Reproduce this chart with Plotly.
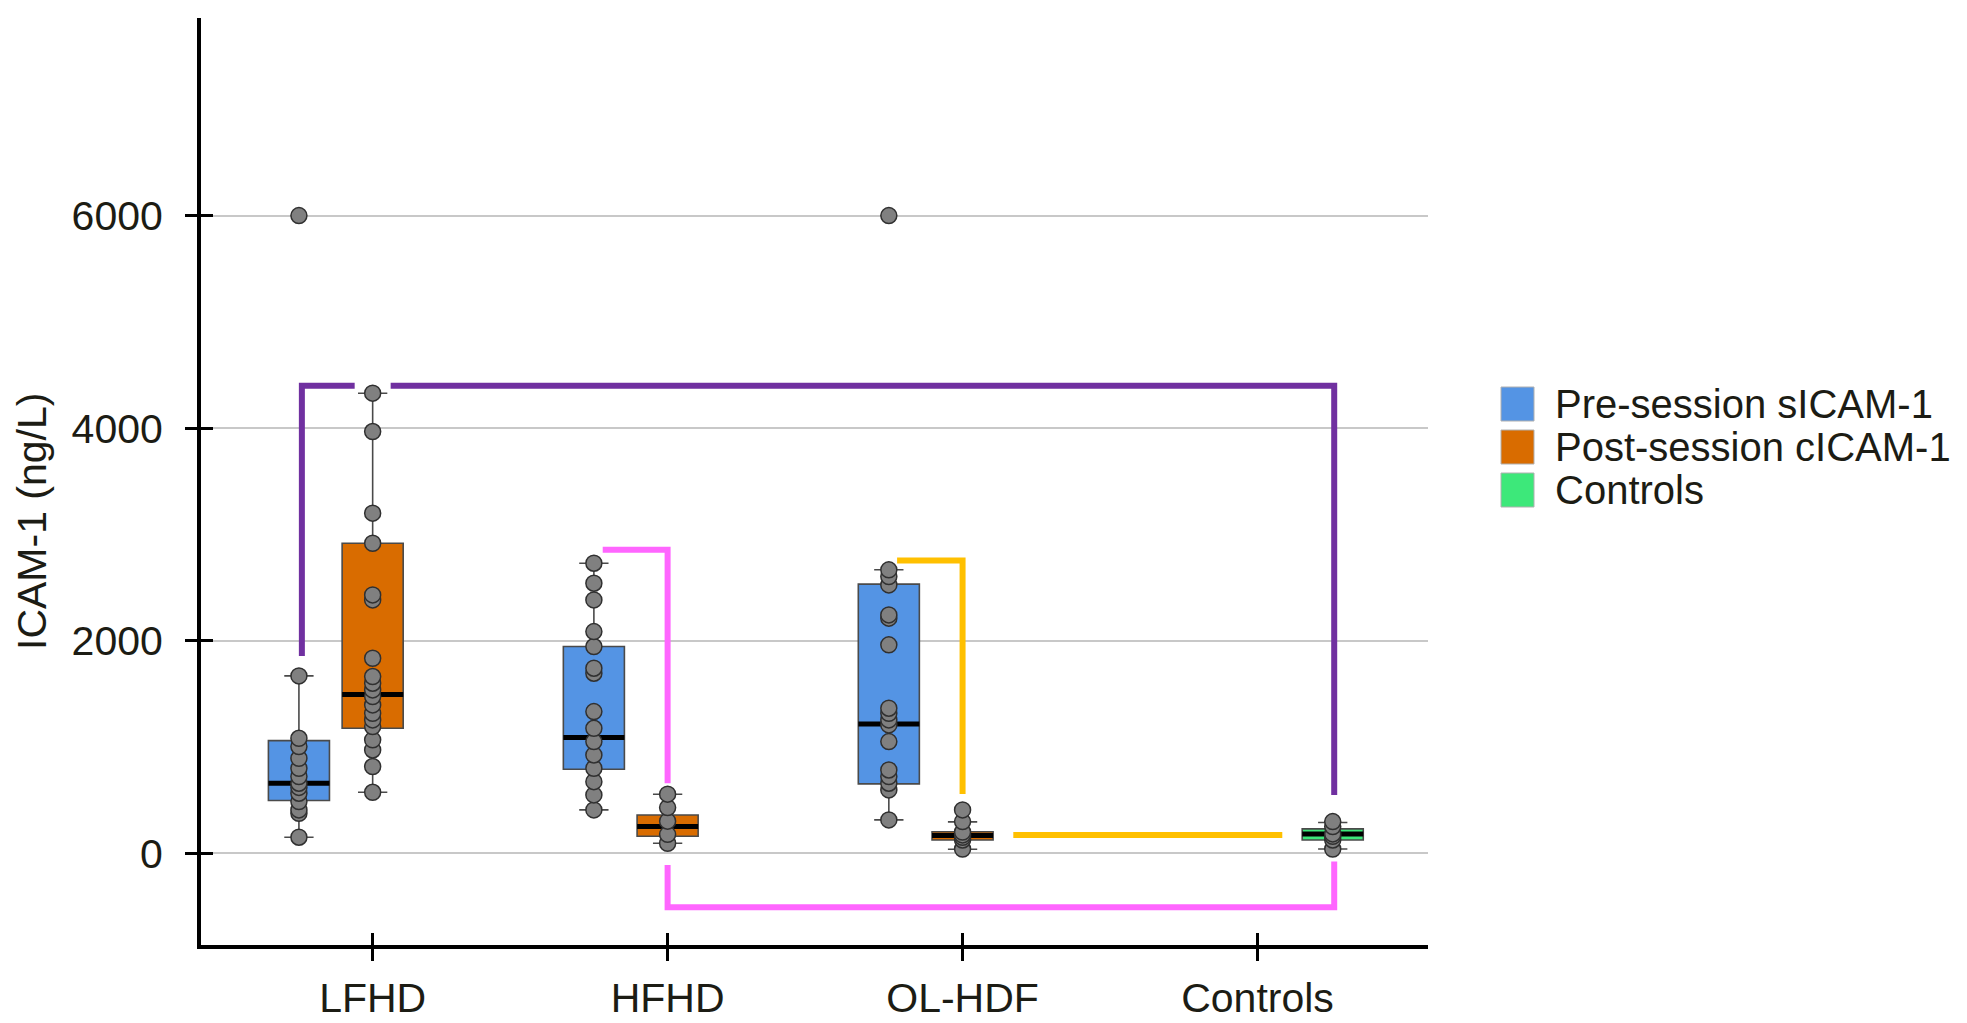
import plotly.graph_objects as go

# groups on the x axis
groups = ["LFHD", "HFHD", "OL-HDF", "Controls"]

# (ng/L)
pre_points = {
    "LFHD": [151, 376, 408, 486, 565, 620, 659, 722, 800, 894, 1004, 1082, 1669, 6000],
    "HFHD": [408, 549, 674, 800, 925, 1051, 1176, 1333, 1694, 1741, 1945, 2086, 2384, 2541, 2729],
    "OL-HDF": [314, 596, 659, 722, 784, 1051, 1208, 1255, 1317, 1365, 1961, 2212, 2243, 2525, 2604, 2667, 6000],
}
post_points = {
    "LFHD": [574, 816, 972, 1067, 1192, 1255, 1317, 1396, 1474, 1537, 1600, 1663, 1835, 2384, 2431, 2917, 3200, 3968, 4329],
    "HFHD": [94, 178, 302, 430, 556],
    "OL-HDF": [40, 125, 150, 173, 200, 298, 408],
}
control_points = {
    "Controls": [40, 125, 160, 182, 251, 298],
}

# box statistics as drawn: q1, median, q3, lower whisker, upper whisker
pre_stats = {
    "LFHD": [496, 659, 1060, 151, 1669],
    "HFHD": [790, 1089, 1945, 408, 2729],
    "OL-HDF": [653, 1217, 2532, 314, 2667],
}
post_stats = {
    "LFHD": [1176, 1493, 2917, 574, 4329],
    "HFHD": [160, 251, 360, 94, 556],
    "OL-HDF": [125, 168, 203, 38, 295],
}
control_stats = {
    "Controls": [125, 182, 230, 40, 290],
}

series = [
    ("Pre-session sICAM-1", pre_points, pre_stats, -0.25, "#5494E4"),
    ("Post-session cICAM-1", post_points, post_stats, 0.0, "#D96C00"),
    ("Controls", control_points, control_stats, 0.255, "#3DE87A"),
]

# significance brackets, in data units (x = group index + offset)
brackets = [
    ("#7030A0", [(-0.24, 1857), (-0.24, 4400), (-0.061, 4400)]),
    ("#7030A0", [(0.061, 4400), (3.26, 4400), (3.26, 549)]),
    ("#FF66FF", [(0.78, 2855), (1.0, 2855), (1.0, 659)]),
    ("#FF66FF", [(1.0, -110), (1.0, -508), (3.26, -508), (3.26, -78)]),
    ("#FFC000", [(1.778, 2754), (2.0, 2754), (2.0, 558)]),
    ("#FFC000", [(2.172, 173), (3.084, 173)]),
]

W, H = 1967, 1023
OFF = 8  # page body margin shifts the figure
ML, MR, MT, MB = 201 - OFF, 539 + OFF, 18 - OFF, 78 + OFF
BOX_W = 0.207
FONT = "Liberation Sans, Arial, sans-serif"
TXT = "#1c1c14"


def paper(px, py):
    # screen pixel -> paper coords
    pw = W - ML - MR
    ph = H - MT - MB
    return (px - OFF - ML) / pw, (H - MB - (py - OFF)) / ph


fig = go.Figure()

# boxes
for name, pts, stats, off, color in series:
    xs = [groups.index(g) + off for g in stats]
    fig.add_trace(go.Box(
        x=xs,
        q1=[stats[g][0] for g in stats],
        median=[stats[g][1] for g in stats],
        q3=[stats[g][2] for g in stats],
        lowerfence=[stats[g][3] for g in stats],
        upperfence=[stats[g][4] for g in stats],
        width=BOX_W, whiskerwidth=0.48, boxpoints=False,
        fillcolor=color, line=dict(color="#4a4a4a", width=1.6),
        orientation="v", name=name, showlegend=False, hoverinfo="skip",
    ))

# brackets
for color, path in brackets:
    fig.add_trace(go.Scatter(
        x=[p[0] for p in path], y=[p[1] for p in path], mode="lines",
        line=dict(color=color, width=6), showlegend=False, hoverinfo="skip",
    ))

# thick black medians
for name, pts, stats, off, color in series:
    mx, my = [], []
    for g in stats:
        c = groups.index(g) + off
        mx += [c - BOX_W / 2, c + BOX_W / 2, None]
        my += [stats[g][1], stats[g][1], None]
    fig.add_trace(go.Scatter(x=mx, y=my, mode="lines", line=dict(color="black", width=5),
                             showlegend=False, hoverinfo="skip"))

# individual values
for name, pts, stats, off, color in series:
    px, py = [], []
    for g, vals in pts.items():
        px += [groups.index(g) + off] * len(vals)
        py += vals
    fig.add_trace(go.Scatter(
        x=px, y=py, mode="markers", name=name, showlegend=False,
        marker=dict(size=16, color="#808080", line=dict(color="#303030", width=1.5)),
    ))

# empty trace to carry the inner tick axes
fig.add_trace(go.Scatter(x=[], y=[], xaxis="x2", yaxis="y2", showlegend=False, hoverinfo="skip"))

xr = [-0.582, 3.578]
yr = [-863, 7859]
yticks = [0, 2000, 4000, 6000]

fig.update_layout(
    width=W, height=H,
    margin=dict(l=ML, r=MR, t=MT, b=MB),
    paper_bgcolor="white", plot_bgcolor="white",
    font=dict(family=FONT, size=41, color=TXT),
    showlegend=False,
    xaxis=dict(range=xr, tickvals=list(range(len(groups))), ticktext=groups, automargin=False,
               showgrid=False, zeroline=False, showline=True, linecolor="black", linewidth=4,
               ticks="outside", ticklen=12, tickwidth=3, tickcolor="black",
               ticklabelstandoff=2),
    yaxis=dict(range=yr, tickvals=yticks, automargin=False,
               showgrid=True, gridcolor="#c8c8c8", gridwidth=2,
               zeroline=False, showline=True, linecolor="black", linewidth=4,
               ticks="outside", ticklen=12, tickwidth=3, tickcolor="black",
               ticklabelstandoff=14),
    xaxis2=dict(range=xr, overlaying="x", tickvals=list(range(len(groups))), showticklabels=False,
                showgrid=False, zeroline=False, showline=False, automargin=False,
                ticks="inside", ticklen=12, tickwidth=3, tickcolor="black"),
    yaxis2=dict(range=yr, overlaying="y", tickvals=yticks, showticklabels=False,
                showgrid=False, zeroline=False, showline=False, automargin=False,
                ticks="inside", ticklen=12, tickwidth=3, tickcolor="black"),
)

# y axis title
tx, ty = paper(32, 522)
fig.add_annotation(text="ICAM-1 (ng/L)", xref="paper", yref="paper", x=tx, y=ty,
                   textangle=-90, showarrow=False, xanchor="center", yanchor="middle",
                   font=dict(size=41, color=TXT))

# legend drawn by hand so the swatches can be large
for i, (name, pts, stats, off, color) in enumerate(series):
    top = 387 + i * 43
    x0, y0 = paper(1501, top + 34)
    x1, y1 = paper(1534, top)
    fig.add_shape(type="rect", xref="paper", yref="paper", x0=x0, y0=y0, x1=x1, y1=y1,
                  fillcolor=color, line=dict(color="#b0b0b0", width=1))
    lx, ly = paper(1553, top + 17)
    fig.add_annotation(text=name, xref="paper", yref="paper", x=lx, y=ly, showarrow=False,
                       xanchor="left", yanchor="middle", font=dict(size=40, color=TXT))

fig.write_html("out.html")
